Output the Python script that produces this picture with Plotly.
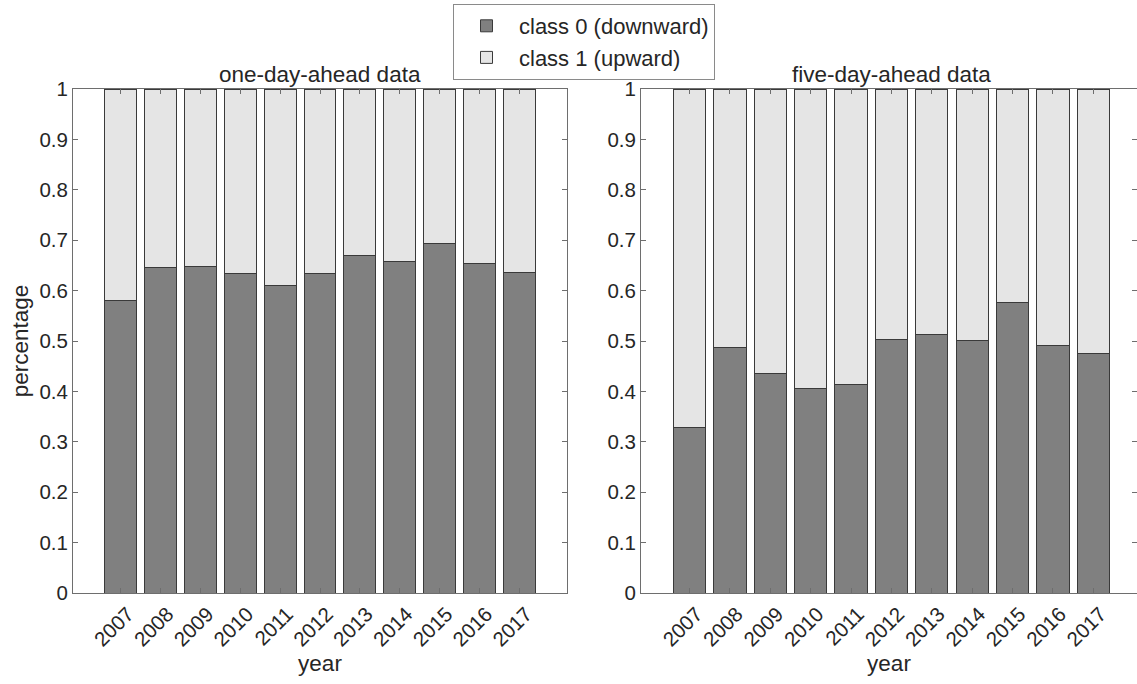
import plotly.graph_objects as go

years = [2007, 2008, 2009, 2010, 2011, 2012, 2013, 2014, 2015, 2016, 2017]
one_day_down = [0.581, 0.645, 0.647, 0.633, 0.611, 0.633, 0.669, 0.657, 0.693, 0.653, 0.636]
five_day_down = [0.329, 0.487, 0.435, 0.406, 0.413, 0.502, 0.513, 0.501, 0.577, 0.492, 0.476]
one_day_up = [round(1 - v, 3) for v in one_day_down]
five_day_up = [round(1 - v, 3) for v in five_day_down]
yticks = [0, 0.1, 0.2, 0.3, 0.4, 0.5, 0.6, 0.7, 0.8, 0.9, 1]
ytick_text = ["0", "0.1", "0.2", "0.3", "0.4", "0.5", "0.6", "0.7", "0.8", "0.9", "1"]

DARK = "#808080"
LIGHT = "#e5e5e5"
EDGE = "#3a3a3a"
AX = "#6e6e6e"
TXT = "#262626"
FONT = "Liberation Sans, Arial, sans-serif"
TICK_SIZE = 20.5
LABEL_SIZE = 22.5

fig = go.Figure()
fig.add_trace(go.Bar(x=years, y=one_day_down, name="class 0 (downward)", marker=dict(color=DARK, line=dict(color=EDGE, width=1)), xaxis="x", yaxis="y", legendgroup="c0"))
fig.add_trace(go.Bar(x=years, y=one_day_up, name="class 1 (upward)", marker=dict(color=LIGHT, line=dict(color=EDGE, width=1)), xaxis="x", yaxis="y", legendgroup="c1"))
fig.add_trace(go.Bar(x=years, y=five_day_down, name="class 0 (downward)", marker=dict(color=DARK, line=dict(color=EDGE, width=1)), xaxis="x2", yaxis="y2", legendgroup="c0", showlegend=False))
fig.add_trace(go.Bar(x=years, y=five_day_up, name="class 1 (upward)", marker=dict(color=LIGHT, line=dict(color=EDGE, width=1)), xaxis="x2", yaxis="y2", legendgroup="c1", showlegend=False))

W, H = 1137, 684
ydom = [1 - 593 / H, 1 - 89 / H]

xcommon = dict(
    tickmode="array", tickvals=years, ticktext=[str(y) for y in years],
    tickangle=-45, ticks="inside", ticklen=5, tickcolor=AX, showline=True, linecolor=AX, linewidth=1,
    mirror="ticks", showgrid=False, zeroline=False, automargin=False,
    ticklabelshift=7,
    tickfont=dict(size=TICK_SIZE, color=TXT, family=FONT),
    title=dict(text="year", font=dict(size=LABEL_SIZE, color=TXT, family=FONT), standoff=0),
)
ycommon = dict(
    range=[0, 1], tickmode="array", tickvals=yticks, ticktext=ytick_text,
    ticks="inside", ticklen=5, tickcolor=AX, showline=True, linecolor=AX, linewidth=1,
    mirror="ticks", showgrid=False, zeroline=False, automargin=False,
    tickfont=dict(size=TICK_SIZE, color=TXT, family=FONT),
)

fig.update_layout(
    width=W, height=H,
    margin=dict(l=0, r=0, t=0, b=0),
    paper_bgcolor="white", plot_bgcolor="white",
    barmode="stack", bargap=0.2,
    font=dict(family=FONT, size=TICK_SIZE, color=TXT),
    xaxis=dict(domain=[73 / W, 567 / W], range=[2005.8, 2018.2], anchor="y", **xcommon),
    yaxis=dict(domain=ydom, anchor="x", title=dict(text="percentage", font=dict(size=LABEL_SIZE, color=TXT, family=FONT), standoff=4), **ycommon),
    xaxis2=dict(domain=[641 / W, 1.0], range=[2005.8, 2018.08], anchor="y2", **xcommon),
    yaxis2=dict(domain=ydom, anchor="x2", **ycommon),
    legend=dict(
        x=453 / W, xanchor="left", y=1 - 4 / H, yanchor="top",
        bordercolor="#8a8a8a", borderwidth=1, bgcolor="white",
        font=dict(size=LABEL_SIZE - 0.5, color=TXT, family=FONT),
        tracegroupgap=0, itemwidth=55,
    ),
    annotations=[
        dict(text="one-day-ahead data", x=(73 + 567) / 2 / W, y=ydom[1], xref="paper", yref="paper",
             xanchor="center", yanchor="bottom", yshift=0, showarrow=False, font=dict(size=LABEL_SIZE, color=TXT, family=FONT)),
        dict(text="five-day-ahead data", x=(641 + 1142) / 2 / W, y=ydom[1], xref="paper", yref="paper",
             xanchor="center", yanchor="bottom", yshift=0, showarrow=False, font=dict(size=LABEL_SIZE, color=TXT, family=FONT)),
    ],
)

fig.write_html("out.html", config={"displayModeBar": False},
               post_script="document.body.style.margin='0';document.body.style.overflow='hidden';")
